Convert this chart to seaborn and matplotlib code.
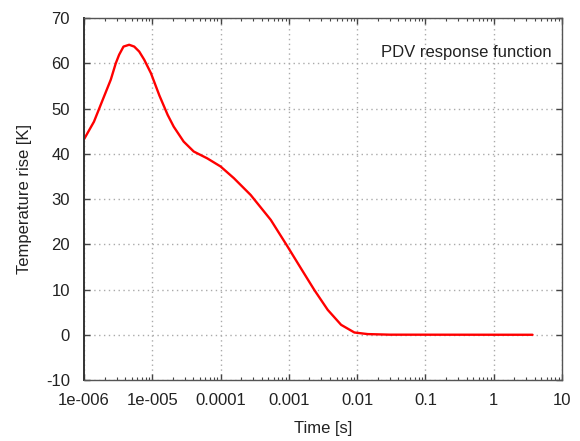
import matplotlib
matplotlib.use("Agg")
import matplotlib.pyplot as plt
import seaborn as sns
import pandas as pd
from matplotlib.ticker import FixedLocator, FixedFormatter, NullFormatter

time_s = [1.0e-6, 1.40e-6, 1.97e-6, 2.47e-6, 2.92e-6, 3.27e-6, 3.79e-6, 4.59e-6,
          5.44e-6, 6.44e-6, 7.62e-6, 9.57e-6, 1.27e-5, 1.68e-5, 2.06e-5, 2.88e-5,
          4.05e-5, 6.37e-5, 1.0e-4, 1.57e-4, 2.76e-4, 5.43e-4, 9.57e-4, 1.50e-3,
          2.36e-3, 3.71e-3, 5.82e-3, 9.12e-3, 1.43e-2, 3.0e-2, 3.7]
temp_rise = [43.2, 47.1, 52.7, 56.4, 60.0, 61.9, 63.7, 64.1,
             63.7, 62.6, 60.8, 57.8, 52.9, 48.6, 46.0, 42.7,
             40.5, 39.0, 37.2, 34.6, 30.9, 25.4, 19.5, 14.7,
             9.9, 5.5, 2.2, 0.5, 0.15, 0.02, 0.0]

x_ticks = [1e-6, 1e-5, 1e-4, 1e-3, 1e-2, 1e-1, 1, 10]
x_labels = ["1e-006", "1e-005", "0.0001", "0.001", "0.01", "0.1", "1", "10"]
y_ticks = [-10, 0, 10, 20, 30, 40, 50, 60, 70]

sns.set_theme(style="white")
plt.rcParams['font.family'] = ['Liberation Sans', 'DejaVu Sans']
plt.rcParams['axes.unicode_minus'] = False

df = pd.DataFrame({"Time [s]": time_s, "Temperature rise [K]": temp_rise})

fig = plt.figure(figsize=(5.8, 4.41), dpi=100)
ax = fig.add_axes([0.1448, 0.1383, 0.969 - 0.1448, 0.959 - 0.1383])
sns.lineplot(data=df, x="Time [s]", y="Temperature rise [K]", ax=ax,
             color="#ff0000", linewidth=1.7)
ax.set_xscale("log")
ax.set_xlim(1e-6, 10)
ax.set_ylim(-10, 70)
ax.xaxis.set_major_locator(FixedLocator(x_ticks))
ax.xaxis.set_major_formatter(FixedFormatter(x_labels))
minors = [m * 10.0**e for e in range(-6, 1) for m in range(2, 10)]
ax.xaxis.set_minor_locator(FixedLocator(minors))
ax.xaxis.set_minor_formatter(NullFormatter())
ax.set_yticks(y_ticks)

ax.grid(True, which="major", color="#aaaaaa", linestyle=(0, (1, 2.5)), linewidth=1.0)
for s in ax.spines.values():
    s.set_color("#555555")
    s.set_linewidth(1.0)
ax.spines["left"].set_color("#333333")
ax.spines["left"].set_linewidth(1.4)

ax.tick_params(which="major", direction="in", length=4, width=1, color="#444444",
               top=True, right=True, bottom=True, left=True,
               labelsize=12, labelcolor="#222222")
ax.tick_params(axis="y", which="major", pad=10)
ax.tick_params(axis="x", which="major", pad=9)
ax.tick_params(which="minor", direction="in", length=2, width=0.8, color="#444444",
               top=True, bottom=True)

ax.set_xlabel("Time [s]", fontsize=12, color="#222222", labelpad=10)
ax.set_ylabel("Temperature rise [K]", fontsize=12, color="#222222", labelpad=10)

ax.text(0.979, 0.906, "PDV response function", transform=ax.transAxes,
        ha="right", va="center", fontsize=12, color="#222222")

fig.savefig("out.png", dpi=100)
